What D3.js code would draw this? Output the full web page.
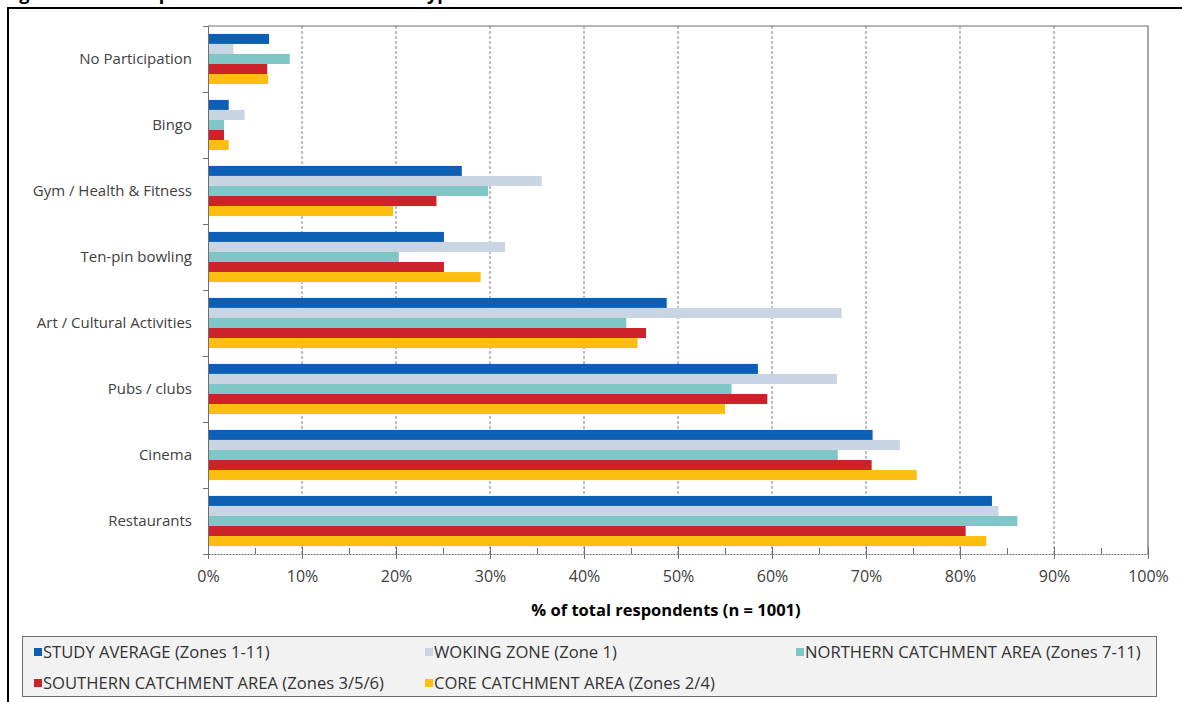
<!DOCTYPE html>
<html>
<head>
<meta charset="utf-8">
<script src="https://cdnjs.cloudflare.com/ajax/libs/d3/7.8.5/d3.min.js"></script>
<style>
  body { margin: 0; background: #fff; }
  svg { display: block; }
</style>
</head>
<body>
<script>
// leisure participation by type - grouped horizontal bars

var categories = [
    'No Participation',
    'Bingo',
    'Gym / Health & Fitness',
    'Ten-pin bowling',
    'Art / Cultural Activities',
    'Pubs / clubs',
    'Cinema',
    'Restaurants'
];

var seriesNames = [
    'STUDY AVERAGE (Zones 1-11)',
    'WOKING ZONE (Zone 1)',
    'NORTHERN CATCHMENT AREA (Zones 7-11)',
    'SOUTHERN CATCHMENT AREA (Zones 3/5/6)',
    'CORE CATCHMENT AREA (Zones 2/4)'
];

// % of respondents, same order as categories
var studyAverage = [6.5, 2.2, 27.0, 25.1, 48.8, 58.5, 70.7, 83.4];
var wokingZone   = [2.7, 3.9, 35.5, 31.6, 67.4, 66.9, 73.6, 84.1];
var northern     = [8.7, 1.7, 29.8, 20.3, 44.5, 55.7, 67.0, 86.1];
var southern     = [6.3, 1.7, 24.3, 25.1, 46.6, 59.5, 70.6, 80.6];
var core         = [6.4, 2.2, 19.7, 29.0, 45.7, 55.0, 75.4, 82.8];

var seriesValues = [studyAverage, wokingZone, northern, southern, core];
var seriesColors = ['#0b5fb5', '#c9d5e3', '#7fc6c6', '#cc2229', '#fdbf0f'];

var xTicks = [0, 10, 20, 30, 40, 50, 60, 70, 80, 90, 100];

var width = 1182;
var height = 702;
var FONT = 'Open Sans, Lato, sans-serif';

var plot = { left: 208, right: 1148, top: 26, bottom: 554 };

var svg = d3.select('body').append('svg')
    .attr('width', width)
    .attr('height', height);

// figure caption, cut off by the top edge in the source
svg.append('text')
    .attr('x', 4)
    .attr('y', 0)
    .attr('font-family', FONT)
    .attr('font-weight', 'bold')
    .attr('font-size', 18)
    .attr('fill', '#000')
    .text('Figure 4.3: Participation in Leisure Activities – Type');

// outer frame (left + top only visible)
svg.append('path')
    .attr('d', 'M8,' + (height + 5) + 'V8H' + (width + 5))
    .attr('fill', 'none')
    .attr('stroke', '#000')
    .attr('stroke-width', 2);

var x = d3.scaleLinear()
    .domain([0, 100])
    .range([plot.left, plot.right]);

var y = d3.scaleBand()
    .domain(categories)
    .range([plot.top, plot.bottom])
    .paddingInner(0.24)
    .paddingOuter(0.12);

var ySub = d3.scaleBand()
    .domain(d3.range(seriesNames.length))
    .range([0, y.bandwidth()]);

// gridlines
svg.append('g')
    .selectAll('line')
    .data(xTicks.filter(function(t) { return t > 0 && t < 100; }))
    .enter().append('line')
    .attr('x1', function(d) { return x(d); })
    .attr('x2', function(d) { return x(d); })
    .attr('y1', plot.top)
    .attr('y2', plot.bottom)
    .attr('stroke', '#7f7f7f')
    .attr('stroke-dasharray', '3,2');

// plot border top + right
svg.append('path')
    .attr('d', 'M' + plot.left + ',' + plot.top + 'H' + plot.right + 'V' + plot.bottom)
    .attr('fill', 'none')
    .attr('stroke', '#6f6f6f')
    .attr('stroke-width', 1.2);

// bars
var groups = svg.append('g')
    .selectAll('g')
    .data(categories)
    .enter().append('g')
    .attr('transform', function(d) { return 'translate(0,' + y(d) + ')'; });

groups.selectAll('rect')
    .data(function(d, i) {
        return seriesValues.map(function(vals, s) { return { s: s, v: vals[i] }; });
    })
    .enter().append('rect')
    .attr('x', x(0))
    .attr('y', function(d) { return ySub(d.s); })
    .attr('width', function(d) { return x(d.v) - x(0); })
    .attr('height', ySub.bandwidth())
    .attr('fill', function(d) { return seriesColors[d.s]; });

// left axis: ticks on category boundaries
var yEdge = d3.scaleLinear()
    .domain([0, categories.length])
    .range([plot.top, plot.bottom]);

var leftAxis = svg.append('g')
    .attr('transform', 'translate(' + plot.left + ',0)')
    .call(d3.axisLeft(yEdge)
        .tickValues(d3.range(categories.length + 1))
        .tickSize(5)
        .tickSizeOuter(0)
        .tickFormat(''));
leftAxis.selectAll('line, path').attr('stroke', '#6f6f6f');

svg.append('g')
    .selectAll('text')
    .data(categories)
    .enter().append('text')
    .attr('x', 192)
    .attr('y', function(d) { return y(d) + y.bandwidth() / 2; })
    .attr('dy', '0.35em')
    .attr('text-anchor', 'end')
    .attr('font-family', FONT)
    .attr('font-size', 15)
    .attr('fill', '#404040')
    .text(function(d) { return d; });

// bottom axis: minor ticks every 5%, major every 10%
var minor = svg.append('g')
    .attr('transform', 'translate(0,' + plot.bottom + ')')
    .call(d3.axisTop(x)
        .tickValues(d3.range(5, 100, 10))
        .tickSize(6)
        .tickSizeOuter(0)
        .tickFormat(''));
minor.select('.domain').remove();
minor.selectAll('line').attr('stroke', '#6f6f6f');

var bottomAxis = svg.append('g')
    .attr('transform', 'translate(0,' + plot.bottom + ')')
    .call(d3.axisBottom(x)
        .tickValues(xTicks)
        .tickSize(5)
        .tickSizeOuter(0)
        .tickPadding(12)
        .tickFormat(function(d) { return d + '%'; }));
bottomAxis.select('.domain')
    .attr('stroke', '#6f6f6f')
    .attr('stroke-dasharray', '2,1');
bottomAxis.selectAll('.tick line')
    .attr('y1', -7)
    .attr('stroke', '#6f6f6f');
bottomAxis.selectAll('text')
    .attr('font-family', FONT)
    .attr('font-size', 16)
    .attr('fill', '#404040');

svg.append('text')
    .attr('x', 666)
    .attr('y', 616)
    .attr('text-anchor', 'middle')
    .attr('font-family', FONT)
    .attr('font-weight', 'bold')
    .attr('font-size', 16.5)
    .attr('fill', '#000')
    .text('% of total respondents (n = 1001)');

// legend
svg.append('rect')
    .attr('x', 22.5)
    .attr('y', 636.5)
    .attr('width', 1134)
    .attr('height', 60)
    .attr('fill', '#f2f2f2')
    .attr('stroke', '#6f6f6f');

var legendCols = [34, 425, 796];
var legendRows = [652, 683];

var legendItems = svg.append('g')
    .selectAll('g')
    .data(seriesNames)
    .enter().append('g')
    .attr('transform', function(d, i) {
        return 'translate(' + legendCols[i % 3] + ',' + legendRows[Math.floor(i / 3)] + ')';
    });

legendItems.append('rect')
    .attr('x', 0)
    .attr('y', -4)
    .attr('width', 8)
    .attr('height', 8)
    .attr('fill', function(d, i) { return seriesColors[i]; });

legendItems.append('text')
    .attr('x', 9)
    .attr('dy', '0.35em')
    .attr('font-family', FONT)
    .attr('font-size', 16.6)
    .attr('fill', '#333')
    .text(function(d) { return d; });
</script>
</body>
</html>
